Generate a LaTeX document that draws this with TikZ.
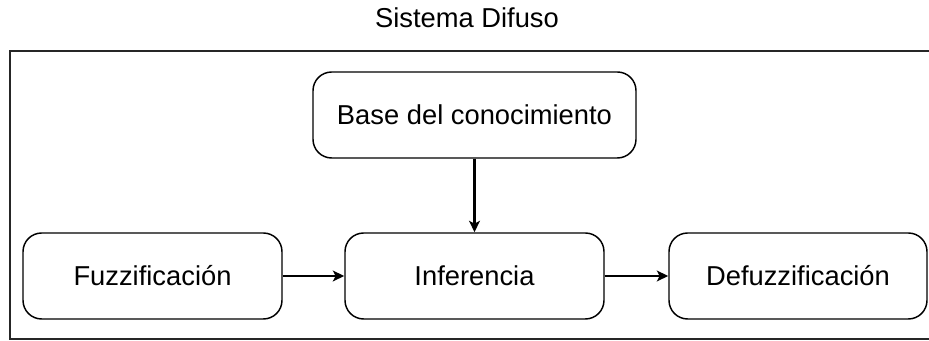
\documentclass[tikz,border=0pt]{standalone}
\usepackage{fontspec}
\setmainfont{Liberation Sans}
\usetikzlibrary{arrows.meta}
\begin{document}
\begin{tikzpicture}[x=0.75pt,y=-0.75pt,
  blockbox/.style={draw=black, line width=1.1pt, rounded corners=14pt, inner sep=0pt, font=\fontsize{20.5}{24}\selectfont},
  conn/.style={line width=1.6pt, -{Stealth[length=8.5pt,width=8pt,inset=2pt]}},
  frame/.style={draw=black!85, line width=1.2pt}]
\useasboundingbox (0,0) rectangle (929,341);
\clip (0,0) rectangle (929,341);
\node[font=\fontsize{20.5}{24}\selectfont] (title) at (467,18) {Sistema Difuso};
\draw[frame] (10,51) rectangle (960,339);
\node[blockbox, minimum width=323*0.75pt, minimum height=86*0.75pt] (base) at (474.5,115) {Base del conocimiento};
\node[blockbox, minimum width=259*0.75pt, minimum height=86*0.75pt] (fuzz) at (152.5,276) {Fuzzificación};
\node[blockbox, minimum width=259*0.75pt, minimum height=86*0.75pt] (inf) at (474.5,276) {Inferencia};
\node[blockbox, minimum width=258*0.75pt, minimum height=86*0.75pt] (defuzz) at (798,276) {Defuzzificación};
\draw[conn] (base) -- (inf);
\draw[conn] (fuzz) -- (inf);
\draw[conn] (inf) -- (defuzz);
\end{tikzpicture}
\end{document}
